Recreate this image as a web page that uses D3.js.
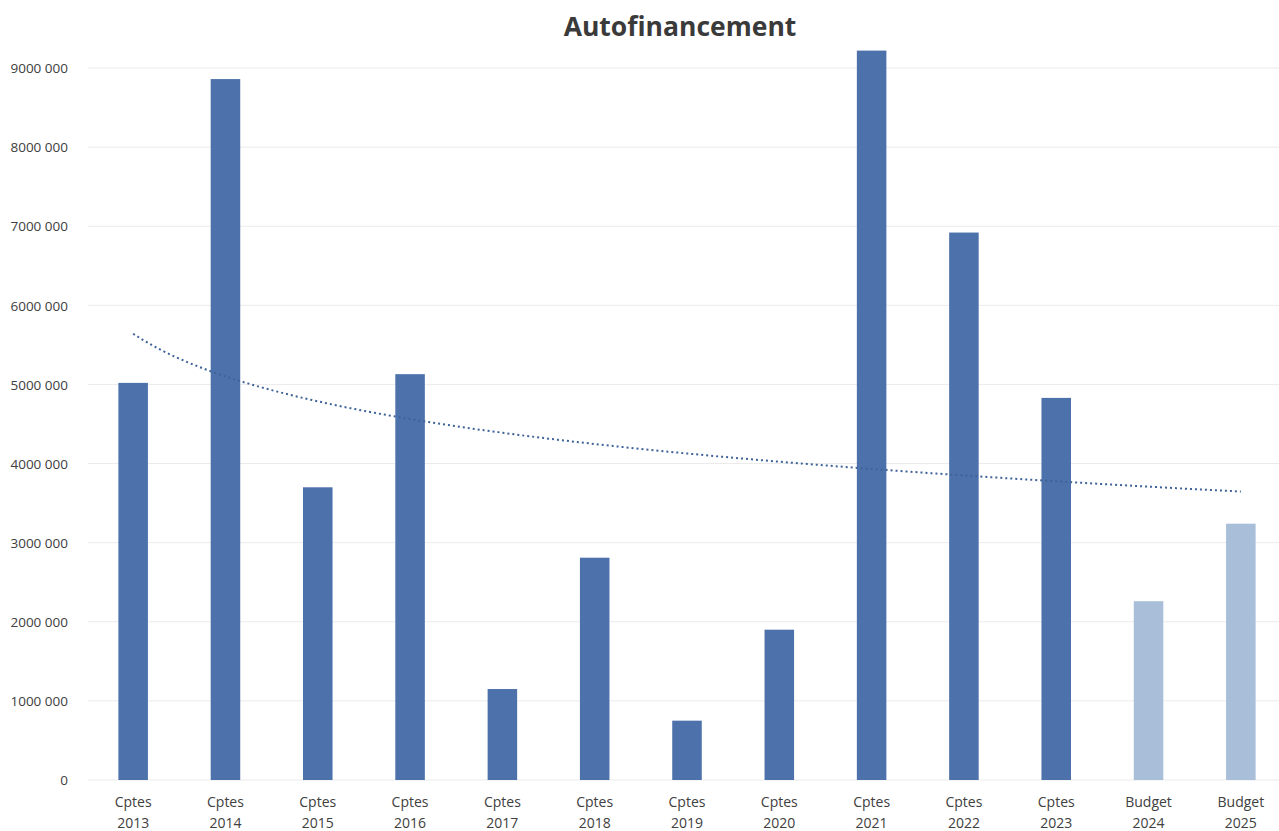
<!DOCTYPE html>
<html><head><meta charset="utf-8">
<script src="https://cdn.jsdelivr.net/npm/d3@7"></script>
<style>body{margin:0;background:#fff}svg{display:block}</style>
</head><body>
<svg id="c" width="1279" height="831"></svg>
<script>
const categoriesTop = ["Cptes","Cptes","Cptes","Cptes","Cptes","Cptes","Cptes","Cptes","Cptes","Cptes","Cptes","Budget","Budget"];
const categoriesYear = ["2013","2014","2015","2016","2017","2018","2019","2020","2021","2022","2023","2024","2025"];
const values = [5020000,8860000,3700000,5130000,1150000,2810000,750000,1900000,9220000,6920000,4830000,2260000,3240000];
const isBudget = [false,false,false,false,false,false,false,false,false,false,false,true,true];
const yTicks = [0,1000000,2000000,3000000,4000000,5000000,6000000,7000000,8000000,9000000];
const yTickLabels = ["0","1000 000","2000 000","3000 000","4000 000","5000 000","6000 000","7000 000","8000 000","9000 000"];

const svg = d3.select("#c");
const font = "'Open Sans', sans-serif";
const x = d3.scaleBand().domain(categoriesYear).range([87, 1287]).paddingInner(0.68).paddingOuter(0.34);
const y = d3.scaleLinear().domain([0, 9000000]).range([780, 68]);

// gridlines
svg.append("g").selectAll("line").data(yTicks).join("line")
  .attr("x1", 88).attr("x2", 1279)
  .attr("y1", d => y(d)).attr("y2", d => y(d))
  .attr("stroke", "#ebebeb").attr("stroke-width", 1);

// y axis labels
const yAxis = d3.axisLeft(y).tickValues(yTicks).tickFormat((d,i) => yTickLabels[i]).tickSize(0).tickPadding(0);
const ga = svg.append("g").attr("transform", "translate(68,0)").call(yAxis);
ga.select(".domain").remove();
ga.selectAll("text").attr("font-family", font).attr("font-size", 13.5).attr("fill", "#404040").attr("dy", "0.35em");

// bars
svg.append("g").selectAll("rect").data(values).join("rect")
  .attr("x", (d,i) => x(categoriesYear[i]))
  .attr("width", x.bandwidth())
  .attr("y", d => y(d))
  .attr("height", d => y(0) - y(d))
  .attr("fill", (d,i) => isBudget[i] ? "#a9bed9" : "#4d72ab");

// x labels
const gx = svg.append("g");
categoriesYear.forEach((c,i) => {
  const cx = x(c) + x.bandwidth()/2;
  const t = gx.append("text").attr("x", cx).attr("text-anchor", "middle")
    .attr("font-family", font).attr("font-size", 14).attr("fill", "#404040");
  t.append("tspan").attr("x", cx).attr("y", 807).text(categoriesTop[i]);
  t.append("tspan").attr("x", cx).attr("y", 828).text(categoriesYear[i]);
});

// logarithmic trendline (least squares on ln(x))
const n = values.length;
const lx = values.map((v,i) => Math.log(i+1));
const mx = d3.mean(lx), my = d3.mean(values);
const a = d3.sum(lx, (l,i) => (l-mx)*(values[i]-my)) / d3.sum(lx, l => (l-mx)*(l-mx));
const b = my - a*mx;
const trend = d3.range(1, n + 0.001, 0.1).map(t => [t, a*Math.log(t) + b]);
const xc = d3.scaleLinear().domain([1, n]).range([x(categoriesYear[0]) + x.bandwidth()/2, x(categoriesYear[n-1]) + x.bandwidth()/2]);
svg.append("path").datum(trend)
  .attr("d", d3.line().x(d => xc(d[0])).y(d => y(d[1])))
  .attr("fill", "none").attr("stroke", "#3e6299").attr("stroke-width", 2)
  .attr("stroke-dasharray", "2,3");

// title
svg.append("text").attr("x", 680).attr("y", 36).attr("text-anchor", "middle")
  .attr("font-family", font).attr("font-weight", 700).attr("font-size", 26.5).attr("fill", "#3a3a3a")
  .text("Autofinancement");
</script>
</body></html>
